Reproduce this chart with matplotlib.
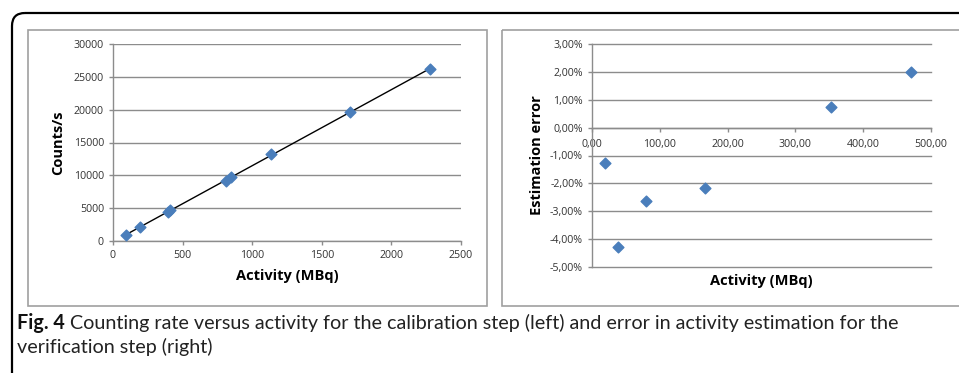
"""
Fig. 4 - calibration (counts vs activity) and verification (estimation error)
"""

import numpy as np
import matplotlib
matplotlib.use("Agg")
import matplotlib.pyplot as plt
from matplotlib.patches import Rectangle, FancyBboxPatch
from matplotlib.ticker import FuncFormatter

# Section 1: data

calib_activity = [96, 192, 393, 408, 815, 851, 1138, 1702, 2277]        # MBq
calib_counts = [950, 2080, 4365, 4720, 9190, 9800, 13200, 19700, 26140]  # counts/s

verif_activity = [18.7, 38.8, 80.1, 167.0, 353.0, 471.0]                # MBq
verif_error = [-1.26, -4.29, -2.63, -2.16, 0.74, 1.99]                 # percent

left_xticks = [0, 500, 1000, 1500, 2000, 2500]
left_yticks = [0, 5000, 10000, 15000, 20000, 25000, 30000]
right_xticks = [0, 100, 200, 300, 400, 500]
right_yticks = [-5, -4, -3, -2, -1, 0, 1, 2, 3]

caption_bold = "Fig. 4"
caption_line1 = ("Counting rate versus activity for the calibration step (left) "
                 "and error in activity estimation for the")
caption_line2 = "verification step (right)"

# Section 2: styling

W, H = 959, 373
MARKER_BLUE = "#4a7ebb"
GRID = "#8c8c8c"
AX_GRAY = "#8c8c8c"
LABEL = "#333333"
CAP_FONT = ["Lato", "DejaVu Sans"]
CAP_SIZE = 14.2
plt.rcParams["font.family"] = ["Open Sans", "DejaVu Sans"]


def px_axes(fig, x0, y0, x1, y1):
    # pixel box (top-down image coords) -> figure axes
    return fig.add_axes([x0 / W, (H - y1) / H, (x1 - x0) / W, (y1 - y0) / H])


def excel_style(ax):
    ax.set_facecolor("none")
    for side in ("top", "right"):
        ax.spines[side].set_visible(False)
    for side in ("left", "bottom"):
        ax.spines[side].set_color(AX_GRAY)
        ax.spines[side].set_linewidth(1.0)
    ax.tick_params(colors=AX_GRAY, labelcolor=LABEL, labelsize=7.7, length=3, width=1.0)
    ax.grid(axis="y", color=GRID, linewidth=1.0)
    ax.set_axisbelow(True)


fig = plt.figure(figsize=(W / 100, H / 100), dpi=100)

# background layer in pixel coords for the frames
bg = fig.add_axes([0, 0, 1, 1], zorder=-1)
bg.set_xlim(0, W)
bg.set_ylim(H, 0)
bg.axis("off")

# outer black rounded frame (open to the right and bottom)
bg.add_patch(FancyBboxPatch((12, 13), W + 50, H + 50,
                            boxstyle="round,pad=0,rounding_size=13",
                            facecolor="none", edgecolor="black", linewidth=1.6))
# gray chart boxes
bg.add_patch(Rectangle((28, 30), 487 - 28, 306 - 30, facecolor="none",
                       edgecolor="#a0a0a0", linewidth=1.2))
bg.add_patch(Rectangle((502, 30), 990 - 502, 306 - 30, facecolor="none",
                       edgecolor="#a0a0a0", linewidth=1.2))

# Section 3: left panel - calibration

ax1 = px_axes(fig, 113, 44, 461, 241)
excel_style(ax1)
fit = np.polyfit(calib_activity, calib_counts, 1)
line_x = np.array([min(calib_activity), max(calib_activity)])
ax1.plot(line_x, np.polyval(fit, line_x), color="black", linewidth=1.0, zorder=2)
ax1.scatter(calib_activity, calib_counts, marker="D", s=30, color=MARKER_BLUE, zorder=3)
ax1.set_xlim(0, 2500)
ax1.set_ylim(0, 30000)
ax1.set_xticks(left_xticks)
ax1.set_yticks(left_yticks)
ax1.set_xlabel("Activity (MBq)", fontsize=10.5, fontweight="bold", labelpad=6)
ax1.set_ylabel("Counts/s", fontsize=10.5, fontweight="bold", labelpad=6)

# Section 4: right panel - verification error

ax2 = px_axes(fig, 592, 44, 931, 267)
excel_style(ax2)
ax2.scatter(verif_activity, verif_error, marker="D", s=30, color=MARKER_BLUE, zorder=3)
ax2.set_xlim(0, 500)
ax2.set_ylim(-5, 3)
ax2.spines["bottom"].set_position(("data", 0))
ax2.set_xticks(right_xticks)
ax2.set_yticks(right_yticks)
ax2.tick_params(axis="x", pad=5)
ax2.xaxis.set_major_formatter(FuncFormatter(lambda v, p: f"{v:.2f}".replace(".", ",")))
ax2.yaxis.set_major_formatter(FuncFormatter(lambda v, p: f"{v:.2f}%".replace(".", ",")))
for gl in ax2.get_ygridlines():
    gl.set_clip_on(False)
ax2.set_ylabel("Estimation error", fontsize=10.5, fontweight="bold", labelpad=4)
fig.text((592 + 931) / 2 / W, (H - 281) / H, "Activity (MBq)", fontsize=10.5,
         fontweight="bold", ha="center", va="center")

# Section 5: caption

cap_y1 = (H - 323) / H
bold = fig.text(17 / W, cap_y1, caption_bold, fontsize=CAP_SIZE, fontweight="bold",
                family=CAP_FONT, va="center", color="#111111")
renderer = fig.canvas.get_renderer()
bold_right = bold.get_window_extent(renderer).x1 / W
fig.text(bold_right + 5 / W, cap_y1, caption_line1, fontsize=CAP_SIZE,
         family=CAP_FONT, va="center", color="#222222")
fig.text(17 / W, (H - 347) / H, caption_line2, fontsize=CAP_SIZE,
         family=CAP_FONT, va="center", color="#222222")

fig.savefig("out.png", dpi=100)
